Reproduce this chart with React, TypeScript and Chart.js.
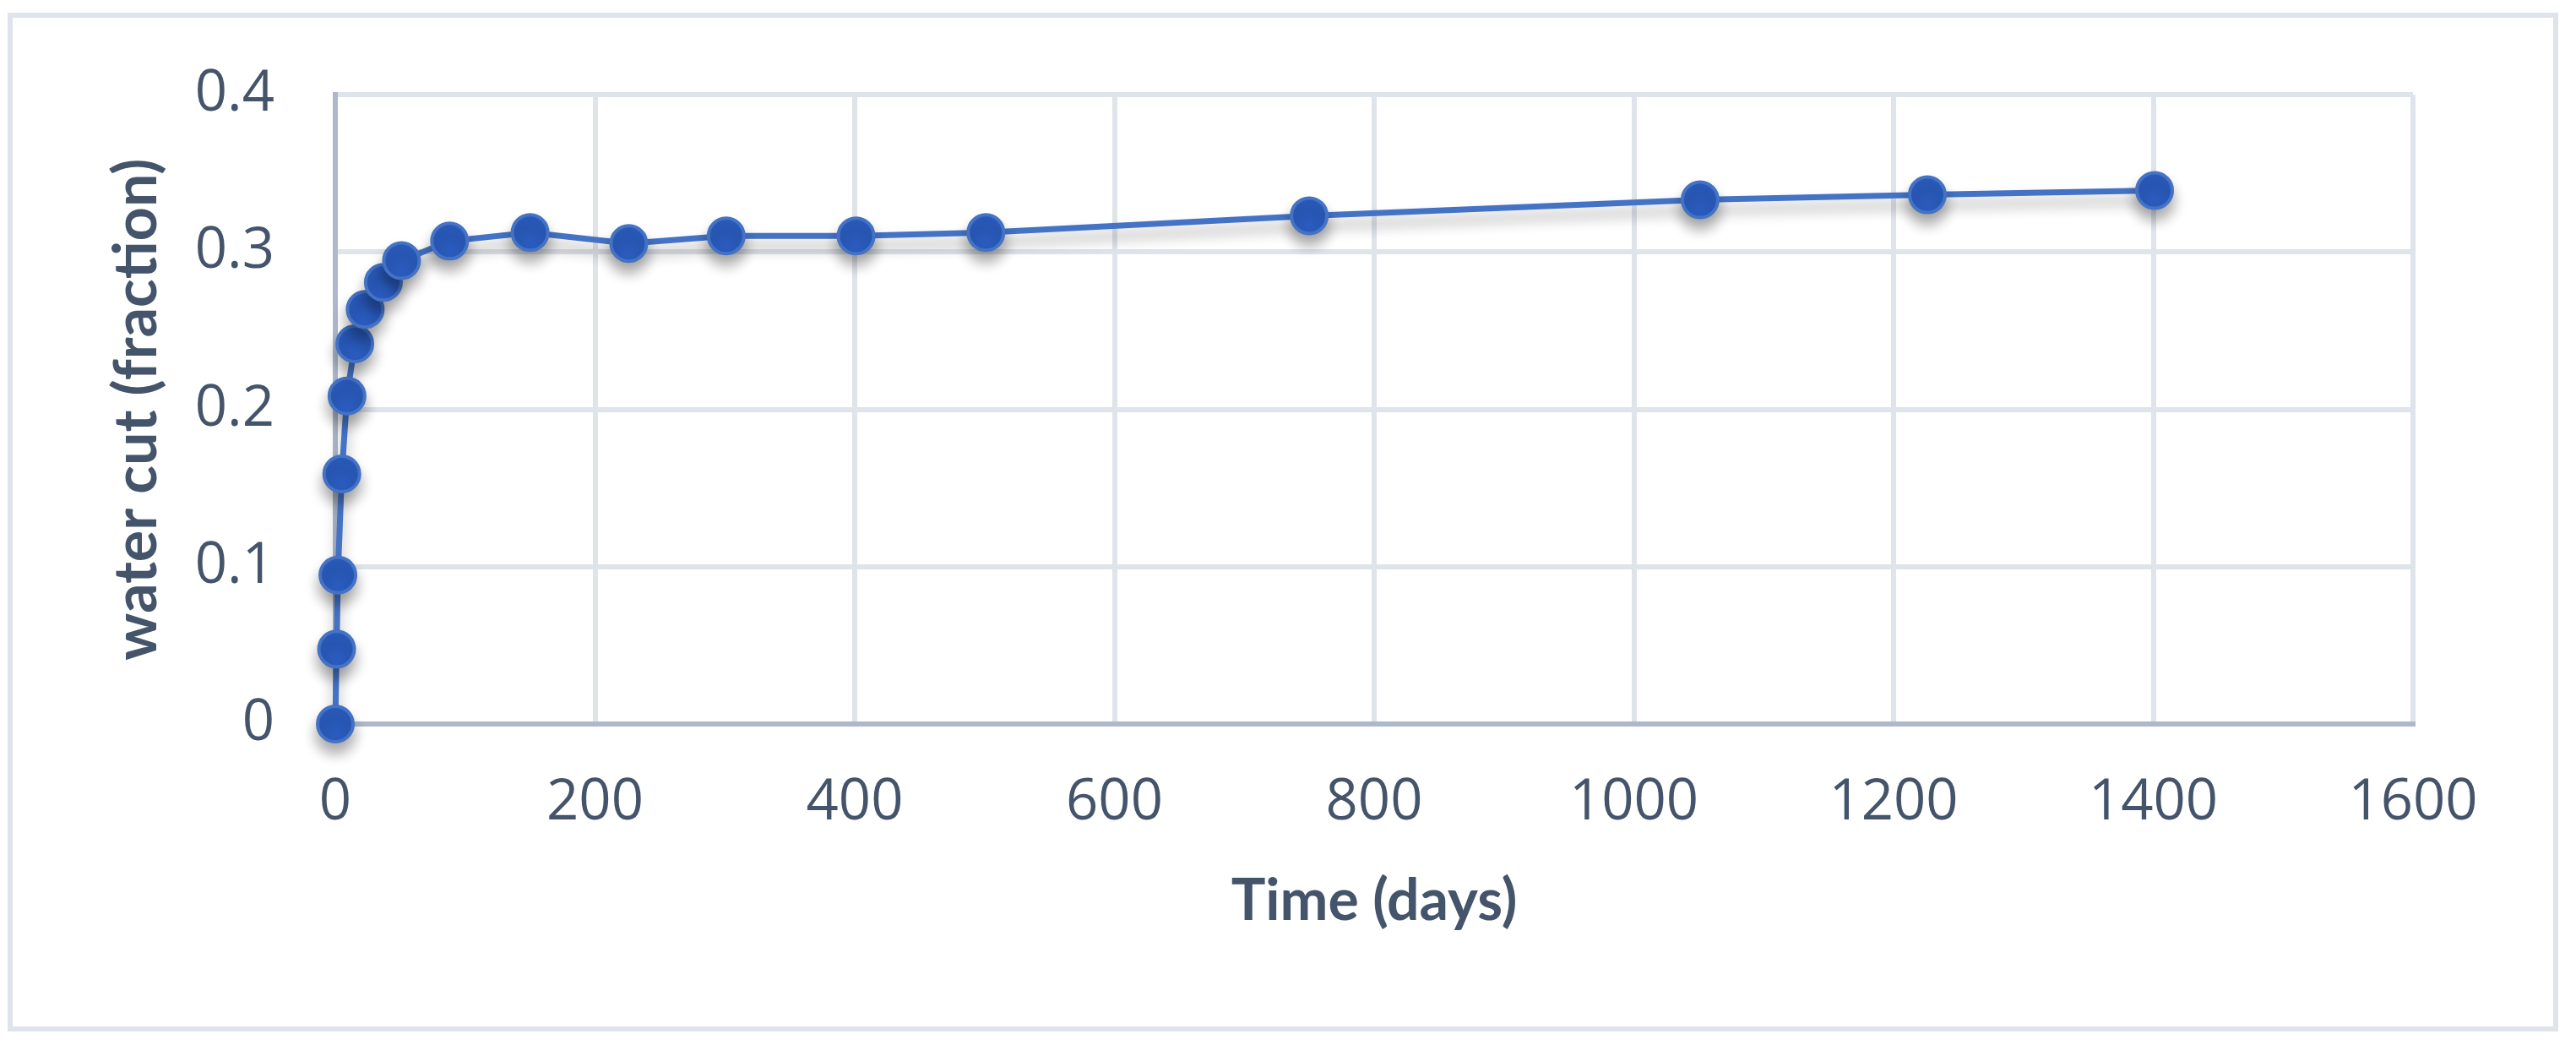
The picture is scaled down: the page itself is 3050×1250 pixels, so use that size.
import React, { useEffect, useRef } from "react";
import { Chart, registerables } from "chart.js";

Chart.register(...registerables);

const timeDays = [0, 1, 2, 5, 9, 15, 23, 37, 51, 88, 150, 226, 301, 401, 501, 750, 1051, 1226, 1401];
const waterCut = [0, 0.0476, 0.0947, 0.159, 0.2085, 0.2417, 0.2636, 0.2807, 0.2946, 0.307, 0.3124, 0.3055, 0.3103, 0.3103, 0.3124, 0.3231, 0.3332, 0.3364, 0.3391];
const xTitle = "Time (days)";
const yTitle = "water cut (fraction)";

const TEXT = "#44546a";
const GRID = "#dfe3ea";
const AXIS = "#adb9cb";

const framePlugin = {
  id: "frame",
  beforeDraw(chart: any) {
    const ctx = chart.ctx;
    ctx.save();
    ctx.fillStyle = "#ffffff";
    ctx.fillRect(0, 0, chart.width, chart.height);
    ctx.strokeStyle = "#dfe3ea";
    ctx.lineWidth = 6;
    ctx.strokeRect(12, 18, 3014, 1200);
    ctx.restore();
  },
};

const shadowPlugin = {
  id: "shadow",
  beforeDatasetsDraw(chart: any) {
    const ctx = chart.ctx;
    ctx.save();
    ctx.shadowColor = "rgba(0,0,0,0.32)";
    ctx.shadowBlur = 16;
    ctx.shadowOffsetX = 0;
    ctx.shadowOffsetY = 12;
  },
  afterDatasetsDraw(chart: any) {
    chart.ctx.restore();
  },
};

export default function App() {
  const ref = useRef<HTMLCanvasElement | null>(null);

  useEffect(() => {
    if (!ref.current) return;
    const chart = new Chart(ref.current, {
      type: "scatter",
      data: {
        datasets: [
          {
            data: timeDays.map((t, i) => ({ x: t, y: waterCut[i] })),
            showLine: true,
            borderColor: "#4472c4",
            borderWidth: 7,
            pointRadius: 21,
            pointBorderWidth: 4,
            pointBackgroundColor: "#2a5cbf",
            pointBorderColor: "#4472c4",
            tension: 0,
            clip: false,
          } as any,
        ],
      },
      options: {
        responsive: false,
        animation: false,
        layout: { padding: { left: 0, right: 193, top: 108, bottom: 0 } },
        plugins: { legend: { display: false }, tooltip: { enabled: false } },
        scales: {
          x: {
            type: "linear",
            min: 0,
            max: 1600,
            ticks: {
              stepSize: 200,
              padding: 54,
              color: TEXT,
              maxRotation: 0,
              font: { family: "'Open Sans'", size: 67 },
              callback: (v: any) => String(v),
            },
            grid: { color: GRID, lineWidth: 6, drawTicks: false },
            border: { color: AXIS, width: 6 },
            title: {
              display: true,
              text: xTitle,
              color: TEXT,
              font: { family: "Lato", size: 68, weight: "bold" },
              padding: { top: 0, bottom: 142 },
            },
            afterFit: (s: any) => {
              s.height = 393;
            },
          },
          y: {
            type: "linear",
            min: 0,
            max: 0.4,
            ticks: {
              stepSize: 0.1,
              padding: 72,
              color: TEXT,
              font: { family: "'Open Sans'", size: 67 },
            },
            grid: { color: GRID, lineWidth: 6, drawTicks: false },
            border: { color: AXIS, width: 6 },
            title: {
              display: true,
              text: yTitle,
              color: TEXT,
              font: { family: "Lato", size: 70, weight: "bold" },
              padding: { top: 120, bottom: 0 },
            },
            afterFit: (s: any) => {
              s.width = 397;
            },
          },
        },
      } as any,
      plugins: [framePlugin, shadowPlugin],
    });
    return () => chart.destroy();
  }, []);

  return (
    <div style={{ position: "absolute", left: 0, top: 0, width: 3050, height: 1250 }}>
      <canvas ref={ref} width={3050} height={1250} style={{ display: "block" }} />
    </div>
  );
}
